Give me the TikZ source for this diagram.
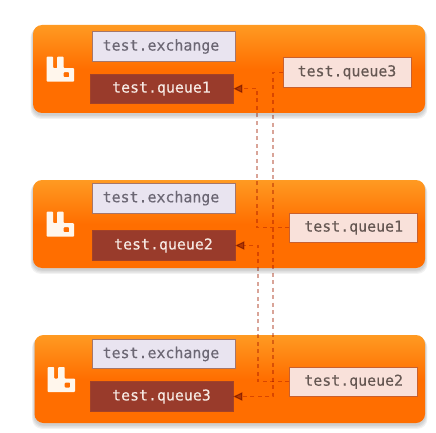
\documentclass[tikz,border=0pt]{standalone}
\usepackage{fontspec}
\setmonofont[FakeBold=0.3]{DejaVu Sans Mono}
\usetikzlibrary{arrows.meta}
\definecolor{pt}{HTML}{FF9A22}
\definecolor{pb}{HTML}{FF6E00}
\pgfdeclareverticalshading{panelshade}{100bp}{color(0bp)=(pb); color(50bp)=(pb); color(75bp)=(pt); color(100bp)=(pt)}
\tikzset{
  panel/.style={rounded corners=9pt, shading=panelshade, draw=none},
  shade1/.style={rounded corners=10pt, fill=black, opacity=0.05},
  boxbase/.style={rectangle, inner sep=0pt, font=\ttfamily\fontsize{14.9pt}{16pt}\selectfont, line width=0.8pt},
  exch/.style={boxbase, fill=exfill, draw=exdraw, text=extext, minimum width=143pt, minimum height=29.5pt},
  qdark/.style={boxbase, fill=qfill, draw=qfill!90!orange, text=qtext, minimum width=143pt, minimum height=29.5pt},
  qlight/.style={boxbase, fill=lfill, draw=ldraw, text=ltext, minimum width=128pt, minimum height=29.5pt},
  link/.style={draw=linkc, line width=1.1pt, dash pattern=on 4pt off 3.5pt},
  linkarrow/.style={link, -{Triangle[length=9pt,width=8.5pt,color=arrowc,fill=arrowc]}, shorten >=0pt},
  logo/.style={fill=logoc, even odd rule, draw=none},
}
\definecolor{exfill}{HTML}{E9E4F0}
\definecolor{exdraw}{HTML}{A5766A}
\definecolor{extext}{HTML}{6C6774}
\definecolor{qfill}{HTML}{993B2B}
\definecolor{qtext}{HTML}{F6E9E3}
\definecolor{lfill}{HTML}{F9E1DA}
\definecolor{ldraw}{HTML}{C9602E}
\definecolor{ltext}{HTML}{665853}
\definecolor{linkc}{HTML}{D9A498}
\definecolor{arrowc}{HTML}{B58440}
\definecolor{logoc}{HTML}{FFF6EC}
\newcommand{\lbl}[1]{\raisebox{-1pt}{#1}}
\newcommand{\exlbl}{\raisebox{-1pt}{test.exchange\kern5pt}}
\newcommand{\panelbg}[4]{% left, top, right, bottom
  \foreach \g in {4,3,2,1}{
    \fill[shade1] (#1-\g*0.6,#2+\g*0.6) rectangle (#3+\g*0.6,#4+1.5+\g*1.1);
  }
  \path[panel] (#1,#2) rectangle (#3,#4);
}
\newcommand{\rabbit}[2]{% origin x, y (top-left of logo)
  \path[logo, rounded corners=0.8pt] (#1,#2) -- (#1+6.5,#2) -- (#1+6.5,#2+11.5) -- (#1+10.5,#2+11.5) -- (#1+10.5,#2) -- (#1+17,#2) -- (#1+17,#2+11.5) -- (#1+27.3,#2+11.5) -- (#1+27.3,#2+25) -- (#1,#2+25) -- cycle
  (#1+17,#2+15.5) rectangle (#1+22.5,#2+20.5);
}
\begin{document}
\begin{tikzpicture}[x=1pt,y=-1pt]
\useasboundingbox (0,0) rectangle (436,433);
\panelbg{33}{25}{425}{113}
\panelbg{33}{180}{425}{268}
\panelbg{34.5}{335}{425}{423}
\rabbit{46.7}{56.7}
\rabbit{46.7}{211.7}
\rabbit{47.7}{367}
% panel 1
\node[exch]  (ex1) at (163.5,46.5) {\exlbl};
\node[qdark] (qa)  at (161.5,88.7) {\lbl{test.queue1}};
\node[qlight](lc)  at (347,72.3)   {\lbl{test.queue3}};
% panel 2
\node[exch]  (ex2) at (163.5,198.2) {\exlbl};
\node[qdark] (qb)  at (163.5,245.5) {\lbl{test.queue2}};
\node[qlight](la)  at (353.7,227.7) {\lbl{test.queue1}};
% panel 3
\node[exch]  (ex3) at (163.5,354) {\exlbl};
\node[qdark] (qc)  at (161.5,396.5) {\lbl{test.queue3}};
\node[qlight](lb)  at (353.7,381.7) {\lbl{test.queue2}};
% bends
\coordinate (c1a) at (273,72.3);
\coordinate (c1b) at (273,396.5);
\coordinate (c2a) at (257,88.7);
\coordinate (c2b) at (257,227.7);
\coordinate (c3a) at (258,245.5);
\coordinate (c3b) at (258,381.7);
% links
\begin{scope}[blend mode=multiply]
\draw[linkarrow] (lc.west) -- (c1a) -- (c1b) -- (qc.east);
\draw[linkarrow] (la.west) -- (c2b) -- (c2a) -- (qa.east);
\draw[linkarrow] (lb.west) -- (c3b) -- (c3a) -- (qb.east);
\end{scope}
\end{tikzpicture}
\end{document}
